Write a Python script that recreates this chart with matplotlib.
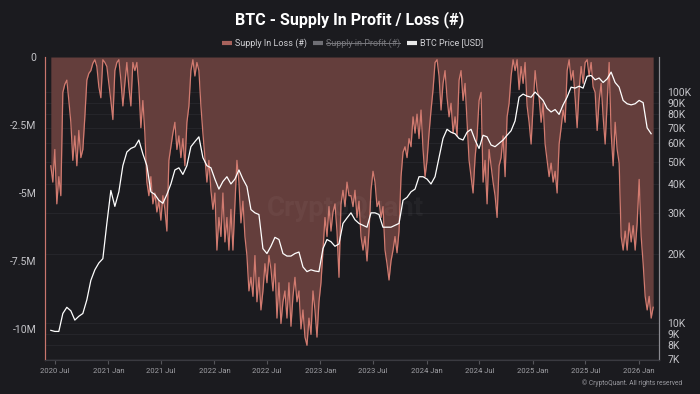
import numpy as np
import pandas as pd
import matplotlib
matplotlib.use("Agg")
import matplotlib.pyplot as plt
from matplotlib.lines import Line2D
from matplotlib.transforms import blended_transform_factory

plt.rcParams['font.family'] = ['Roboto', 'DejaVu Sans']

# Supply in loss (millions of BTC), roughly weekly
loss_start, loss_end = '2020-06-17', '2026-02-19'
supply_in_loss_m = [
    4.0, 4.6, 3.4, 5.4, 4.4, 5.1, 1.3, 1.0, 0.85, 1.6,
    2.4, 3.8, 2.9, 4.0, 2.7, 3.7, 3.4, 2.2, 0.85, 0.6,
    0.5, 0.23, 0.1, 0.35, 1.1, 1.5, 0.1, 0.2, 0.35, 0.97,
    1.6, 2.3, 0.5, 0.2, 0.1, 0.85, 1.8, 0.97, 0.2, 1.1,
    1.8, 0.2, 0.5, 0.2, 1.1, 2.6, 1.6, 2.8, 4.6, 5.1,
    4.4, 5.4, 5.0, 5.7, 5.3, 6.0, 5.1, 5.6, 6.4, 3.8,
    3.3, 2.8, 2.4, 3.4, 2.9, 3.7, 3.0, 4.0, 2.4, 1.8,
    0.5, 0.1, 0.7, 0.2, 0.5, 1.8, 2.8, 3.7, 4.6, 3.8,
    4.9, 5.6, 5.0, 7.1, 5.9, 6.6, 5.0, 6.8, 5.9, 7.1,
    5.6, 7.1, 5.4, 3.8, 4.6, 6.1, 5.3, 6.6, 7.3, 8.6,
    8.1, 8.8, 7.3, 9.0, 8.1, 9.3, 8.6, 7.6, 8.3, 7.3,
    7.8, 8.6, 7.6, 9.6, 8.3, 9.8, 9.0, 8.6, 9.6, 8.3,
    9.9, 8.8, 8.1, 9.0, 8.6, 10.0, 9.3, 10.3, 10.6, 9.6,
    10.2, 8.6, 9.3, 10.3, 9.0, 8.3, 7.1, 5.9, 6.6, 5.5,
    6.4, 5.7, 5.4, 6.4, 8.1, 5.4, 4.9, 5.5, 4.6, 5.1,
    5.1, 5.5, 4.9, 5.9, 5.3, 6.6, 7.1, 6.6, 7.5, 6.4,
    4.9, 4.2, 4.6, 5.5, 5.3, 5.9, 5.5, 7.1, 7.6, 8.2,
    7.5, 7.1, 6.6, 7.2, 6.4, 4.4, 3.5, 3.3, 3.7, 3.0,
    3.3, 2.2, 2.8, 2.1, 3.0, 1.95, 3.4, 4.4, 3.8, 2.8,
    1.95, 1.2, 0.2, 0.1, 0.7, 1.95, 0.97, 0.5, 1.5, 2.2,
    1.7, 2.8, 2.2, 2.9, 0.85, 0.5, 1.6, 0.97, 2.4, 3.8,
    4.4, 5.0, 3.7, 2.9, 1.6, 1.3, 4.6, 3.8, 5.4, 3.4,
    4.0, 4.6, 5.1, 5.9, 4.0, 3.7, 2.9, 4.4, 2.2, 1.7,
    0.7, 0.1, 0.5, 0.1, 1.2, 0.35, 0.97, 0.2, 1.8, 2.4,
    3.2, 1.8, 0.5, 1.2, 1.5, 2.4, 1.7, 3.2, 3.8, 4.4,
    3.9, 4.6, 4.2, 5.0, 3.2, 2.6, 1.95, 2.4, 0.5, 0.1,
    0.85, 0.5, 1.5, 2.6, 1.2, 0.35, 0.97, 0.2, 0.1, 0.7,
    0.2, 1.1, 1.3, 2.7, 1.6, 0.97, 2.2, 3.2, 1.7, 0.2,
    2.8, 4.0, 2.4, 3.4, 3.9, 6.6, 7.1, 6.4, 7.1, 6.1,
    6.8, 6.2, 7.1, 6.1, 4.5, 6.6, 7.6, 8.8, 9.3, 8.8,
    9.6, 9.2,
]

# BTC price (thousands USD), roughly every two weeks
price_start, price_end = '2020-06-17', '2026-02-12'
btc_price_k = [
    9.3, 9.2, 9.2, 11.0, 11.7, 11.3, 10.3, 10.7, 11.0, 12.6,
    15.3, 17.0, 18.2, 19.0, 27.0, 37.5, 32.0, 37.0, 48.0, 55.0,
    57.0, 58.0, 62.0, 54.0, 48.0, 37.0, 36.0, 34.0, 33.0, 36.0,
    40.0, 46.0, 47.0, 44.0, 48.0, 58.0, 61.0, 64.0, 52.0, 48.0,
    47.0, 42.0, 38.0, 41.0, 43.0, 40.0, 42.0, 46.0, 42.0, 39.0,
    31.0, 30.0, 29.5, 21.0, 20.0, 21.5, 23.5, 23.0, 20.0, 19.5,
    19.5, 20.0, 20.3, 17.5, 16.7, 17.0, 16.8, 16.7, 21.0, 23.0,
    22.5, 21.5, 22.0, 27.0, 28.5, 30.0, 28.0, 27.0, 26.5, 26.0,
    30.0, 30.0, 29.5, 26.0, 26.0, 26.0, 26.5, 27.0, 34.0, 35.0,
    37.0, 38.0, 43.0, 43.0, 42.0, 40.0, 43.0, 52.0, 63.0, 69.0,
    67.0, 66.0, 63.0, 62.0, 67.0, 69.0, 62.0, 57.0, 65.0, 64.0,
    59.0, 58.0, 60.0, 62.0, 65.0, 68.0, 75.0, 95.0, 98.0, 96.0,
    95.0, 100.0, 96.0, 92.0, 85.0, 82.0, 84.0, 80.0, 88.0, 95.0,
    105.0, 104.0, 106.0, 104.0, 117.0, 118.0, 113.0, 115.0, 110.0, 114.0,
    122.0, 110.0, 105.0, 92.0, 89.0, 88.0, 89.0, 92.0, 90.0, 70.0,
    66.0,
]

left_ticks = [0, -2.5e6, -5e6, -7.5e6, -10e6]
left_labels = ['0', '-2.5M', '-5M', '-7.5M', '-10M']
right_ticks = [7e3, 8e3, 9e3, 1e4, 2e4, 3e4, 4e4, 5e4, 6e4, 7e4, 8e4, 9e4, 1e5]
right_labels = ['7K', '8K', '9K', '10K', '20K', '30K', '40K', '50K',
                '60K', '70K', '80K', '90K', '100K']
x_ticks = pd.date_range('2020-07-01', '2026-01-01', freq='6MS')
x_labels = [d.strftime('%Y %b') for d in x_ticks]

loss_dates = pd.date_range(loss_start, loss_end, periods=len(supply_in_loss_m))
price_dates = pd.date_range(price_start, price_end, periods=len(btc_price_k))
loss = -np.array(supply_in_loss_m) * 1e6
price = np.array(btc_price_k) * 1e3

bg = '#1b1b1f'
fill_c = '#643e3c'
line_c = '#d27b70'
lab_c = '#c4c4c8'

fig = plt.figure(figsize=(7, 3.94), dpi=100, facecolor=bg)
ax = fig.add_axes([0.0643, 0.0863, 0.8771, 0.769], facecolor=bg)
ax2 = ax.twinx()

ax2.set_yscale('log')
ax2.set_ylim(6920, 141800)
ax.set_ylim(-11.14e6, 0)
ax.set_xlim(pd.Timestamp('2020-05-28'), pd.Timestamp('2026-03-11'))

# faint grid at the price ticks, behind the fill
gtr = blended_transform_factory(ax.transAxes, ax2.transData)
for v in right_ticks:
    ax.plot([0, 1], [v, v], transform=gtr, color='#26262b', lw=0.7, zorder=0)

ax.fill_between(loss_dates, 0, loss, color=fill_c, lw=0, zorder=1)
ax.plot(loss_dates, loss, color=line_c, lw=0.9, zorder=2)
ax2.plot(price_dates, price, color='white', lw=0.9)

ax.set_yticks(left_ticks)
ax.set_yticklabels(left_labels)
ax2.set_yticks(right_ticks)
ax2.set_yticklabels(right_labels)
ax2.minorticks_off()
ax.set_xticks(x_ticks)
ax.set_xticklabels(x_labels)

ax.tick_params(axis='y', length=0, labelsize=7.5, labelcolor=lab_c, pad=6)
ax2.tick_params(axis='y', length=0, labelsize=7.5, labelcolor=lab_c, pad=6)
ax.tick_params(axis='x', length=3, color='#55555a', labelsize=5.5,
               labelcolor='#a0a0a5', pad=3)

for a in (ax, ax2):
    a.spines['top'].set_visible(False)
    a.spines['left'].set_color('#c8766c')
    a.spines['right'].set_color('#8a8a90')
    a.spines['bottom'].set_color('#3a3a40')
    a.patch.set_alpha(0)
ax.patch.set_alpha(1)

fig.text(0.493, 0.47, 'CryptoQuant', ha='center', va='center', fontsize=20,
         color='white', alpha=0.04, weight='bold')

fig.text(0.5, 1 - 20 / 394, 'BTC - Supply In Profit / Loss (#)', ha='center',
         va='center', fontsize=11.5, weight='bold', color='white')

# legend drawn by hand (middle entry is struck through)
ly = 1 - 43 / 394
items = [(222, 'Supply In Loss (#)', '#a8625c', '#d0d0d4'),
         (313, 'Supply in Profit (#)', '#6e6e74', '#77777c'),
         (407, 'BTC Price [USD]', '#e8e8e8', '#d0d0d4')]
texts = []
for x0, txt, sc, tc in items:
    fig.add_artist(Line2D([x0 / 700, (x0 + 10) / 700], [ly, ly], color=sc, lw=3,
                          solid_capstyle='butt'))
    texts.append(fig.text((x0 + 13) / 700, ly, txt, ha='left', va='center',
                          fontsize=6.5, color=tc))

fig.text(682 / 700, 1 - 383 / 394, '\u00a9 CryptoQuant. All rights reserved',
         ha='right', va='center', fontsize=4.8, color='#9a9aa0')

fig.canvas.draw()
bb = texts[1].get_window_extent().transformed(fig.transFigure.inverted())
fig.add_artist(Line2D([bb.x0, bb.x1], [ly, ly], color='#77777c', lw=0.7))

fig.savefig('out.png', dpi=100, facecolor=bg)
